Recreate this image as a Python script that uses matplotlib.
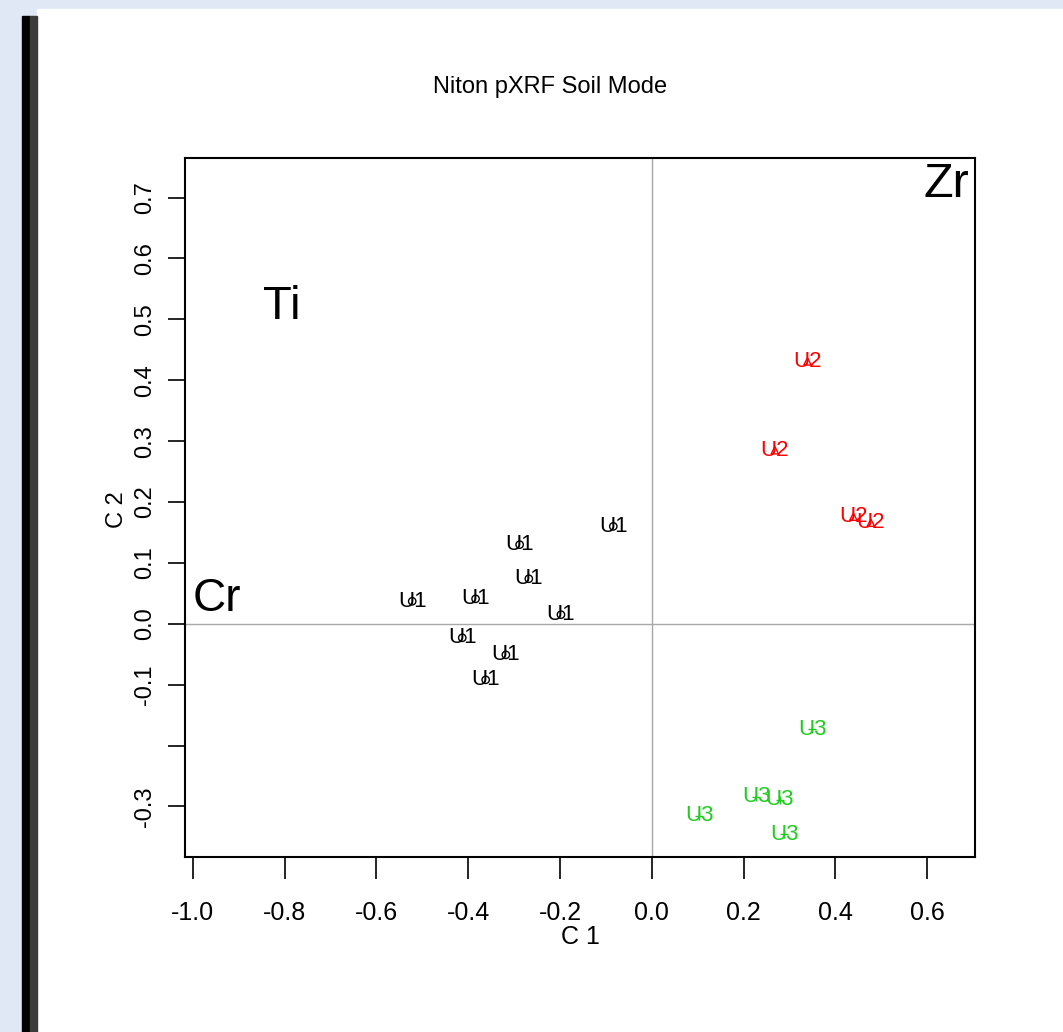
import matplotlib
matplotlib.use("Agg")
import matplotlib.pyplot as plt
from matplotlib.patches import Rectangle

plt.rcParams['font.family'] = ['Liberation Sans', 'DejaVu Sans']

# scores
u1_x = [-0.084, -0.288, -0.268, -0.522, -0.384, -0.198, -0.413, -0.318, -0.362]
u1_y = [0.160, 0.130, 0.074, 0.037, 0.041, 0.015, -0.023, -0.051, -0.092]
u2_x = [0.339, 0.268, 0.439, 0.477]
u2_y = [0.431, 0.285, 0.176, 0.166]
u3_x = [0.349, 0.228, 0.279, 0.103, 0.288]
u3_y = [-0.173, -0.284, -0.289, -0.315, -0.346]

# element loadings
elements = ['Ti', 'Cr', 'Zr']
elem_x = [-0.807, -0.948, 0.642]
elem_y = [0.520, 0.040, 0.721]
elem_size = [34, 33, 35]

x_ticks = [-1.0, -0.8, -0.6, -0.4, -0.2, 0.0, 0.2, 0.4, 0.6]
y_ticks = [-0.3, -0.2, -0.1, 0.0, 0.1, 0.2, 0.3, 0.4, 0.5, 0.6, 0.7]
y_tick_labels = ['-0.3', '', '-0.1', '0.0', '0.1', '0.2', '0.3', '0.4', '0.5', '0.6', '0.7']

fig = plt.figure(figsize=(10.63, 10.32), dpi=100)
fig.patch.set_facecolor('#e1e8f5')

# white page with dark bar on the left
fig.patches.append(Rectangle((37/1063, 0), 1 - 37/1063, 1 - 9/1032,
                             transform=fig.transFigure, color='white', zorder=-5))
fig.patches.append(Rectangle((22/1063, 0), 8/1063, 1 - 16/1032,
                             transform=fig.transFigure, color='black', zorder=-5))
fig.patches.append(Rectangle((30/1063, 0), 7/1063, 1 - 16/1032,
                             transform=fig.transFigure, color='#3c3c3c', zorder=-5))

ax = fig.add_axes([185/1063, 1 - 857/1032, 790/1063, 699/1032])
ax.set_zorder(2)
ax.set_facecolor('white')
ax.set_xlim(-1.017, 0.704)
ax.set_ylim(-0.383, 0.765)

ax.axhline(0, color='#a8a8a8', lw=1, zorder=1)
ax.axvline(0, color='#a8a8a8', lw=1, zorder=1)

groups = [(u1_x, u1_y, 'U1', 'black', 'o'),
          (u2_x, u2_y, 'U2', '#ff0000', '^'),
          (u3_x, u3_y, 'U3', '#1fcc1f', '+')]
for xs, ys, lab, col, mk in groups:
    if mk == '+':
        ax.scatter(xs, ys, marker=mk, s=30, color=col, linewidths=1, zorder=3)
    else:
        ax.scatter(xs, ys, marker=mk, s=28, facecolors='none', edgecolors=col,
                   linewidths=1, zorder=3)
    for x, y in zip(xs, ys):
        ax.text(x, y, lab, color=col, fontsize=16, ha='center', va='center', zorder=4)

for name, x, y, s in zip(elements, elem_x, elem_y, elem_size):
    ax.text(x, y, name, fontsize=s, ha='center', va='center', color='black')

ax.set_xticks(x_ticks)
ax.set_xticklabels(['%.1f' % v for v in x_ticks])
ax.set_yticks(y_ticks)
ax.set_yticklabels(y_tick_labels, rotation=90, va='center')
ax.tick_params(axis='x', length=16, width=1.2, pad=16, labelsize=18)
ax.tick_params(axis='y', length=12, width=1.2, pad=9, labelsize=17)
for sp in ax.spines.values():
    sp.set_linewidth(1.5)

ax.set_xlabel('C 1', fontsize=18, va='center')
ax.xaxis.set_label_coords(0.5, -(937 - 857) / 699)
ax.set_ylabel('C 2', fontsize=17, va='center')
ax.yaxis.set_label_coords((117 - 185) / 790, 0.497)

fig.text(550/1063, 1 - 87/1032, 'Niton pXRF Soil Mode', fontsize=17,
         ha='center', va='center')

fig.savefig('out.png', dpi=100)
